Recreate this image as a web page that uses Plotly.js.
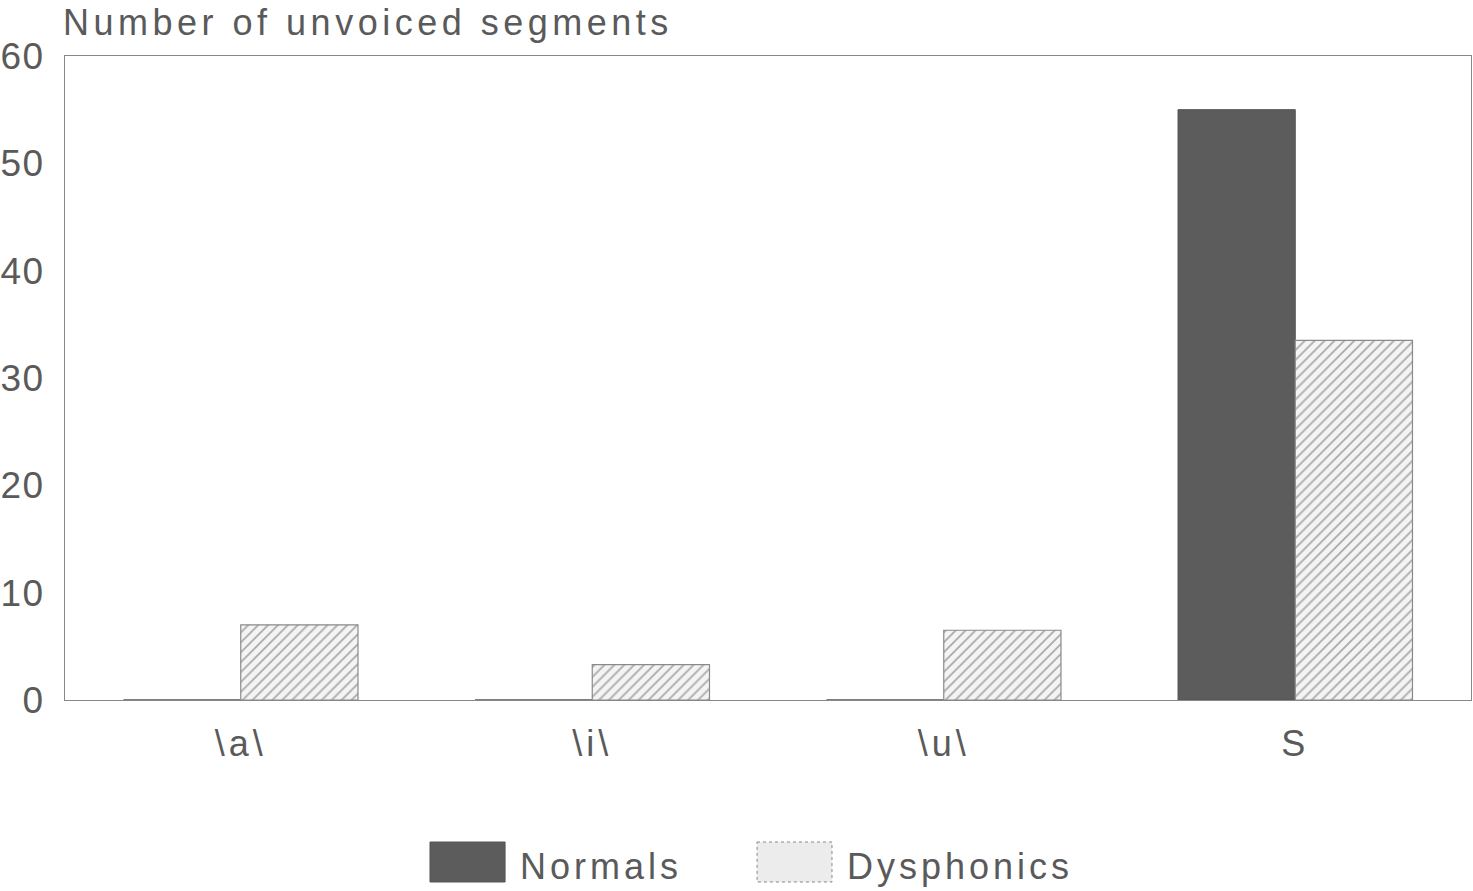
<!DOCTYPE html>
<html><head><meta charset="utf-8">
<script src="https://cdn.plot.ly/plotly-3.0.1.min.js"></script>
<style>
html,body{margin:0;padding:0;background:#fff;}
#chart{width:1473px;height:891px;}
#chart text{letter-spacing:4px;}
#chart .gtitle{letter-spacing:4.5px;}
#chart .ytick text{letter-spacing:1.5px;}
</style></head>
<body><div id="chart"></div>
<script>
const categories = ['\\a\\', '\\i\\', '\\u\\', 'S'];
const seriesNames = ['Normals', 'Dysphonics'];
const normals = [0, 0, 0, 55];
const dysphonics = [7, 3.3, 6.5, 33.5];
const yTicks = [0, 10, 20, 30, 40, 50, 60];

const textColor = '#5a5a5a';
const fontFam = 'Liberation Sans, Arial, Helvetica, sans-serif';

const traces = [
  {type:'bar', name:seriesNames[0], x:categories, y:normals,
   marker:{color:'#5c5c5c', line:{color:'#555', width:1}}, showlegend:false},
  {type:'bar', name:seriesNames[1], x:categories, y:dysphonics,
   marker:{color:'#ffffff', line:{color:'#8a8a8a', width:1.2},
     pattern:{shape:'/', fgcolor:'#aaaaaa', bgcolor:'#f4f4f4', size:7, solidity:0.25}}, showlegend:false}
];

// custom legend (paper coordinates)
const legY0 = -0.2205, legY1 = -0.2826, legYc = -0.2578;
const legItems = [
  {x0:0.2596, x1:0.313, tx:0.3321, fill:'#5c5c5c', line:'#555', dash:'solid'},
  {x0:0.4922, x1:0.5455, tx:0.5690, fill:'#ececec', line:'#888', dash:'dot'}
];
const shapes = legItems.map(it => ({type:'rect', xref:'paper', yref:'paper',
  x0:it.x0, x1:it.x1, y0:legY0, y1:legY1, fillcolor:it.fill,
  line:{color:it.line, width:1, dash:it.dash}}));
const annotations = legItems.map((it,i) => ({xref:'paper', yref:'paper', x:it.tx, y:legYc,
  xanchor:'left', yanchor:'middle', showarrow:false, text:seriesNames[i],
  font:{size:36, color:textColor, family:fontFam}}));

const layout = {
  width:1473, height:891,
  margin:{l:65, r:2, t:56, b:191},
  paper_bgcolor:'#fff', plot_bgcolor:'#fff',
  font:{family:fontFam, color:textColor},
  title:{text:'Number of unvoiced segments', xref:'container', yref:'container',
    x:0.0428, xanchor:'left', y:0.975, yanchor:'middle',
    font:{size:36, color:textColor, family:fontFam}},
  barmode:'group', bargap:0.333, bargroupgap:0,
  xaxis:{type:'category', range:[-0.5, 3.5], showgrid:false, zeroline:false,
    showline:true, linecolor:'#888', linewidth:1, mirror:true, ticks:'',
    tickfont:{size:36, color:textColor, family:fontFam}, ticklabelstandoff:12},
  yaxis:{range:[0, 60], tickvals:yTicks, showgrid:false, zeroline:false,
    showline:true, linecolor:'#888', linewidth:1, mirror:true, ticks:'',
    tickfont:{size:37, color:textColor, family:fontFam}, ticklabelstandoff:12},
  shapes:shapes, annotations:annotations, showlegend:false
};

Plotly.newPlot('chart', traces, layout, {displayModeBar:false, staticPlot:true});
</script></body></html>
